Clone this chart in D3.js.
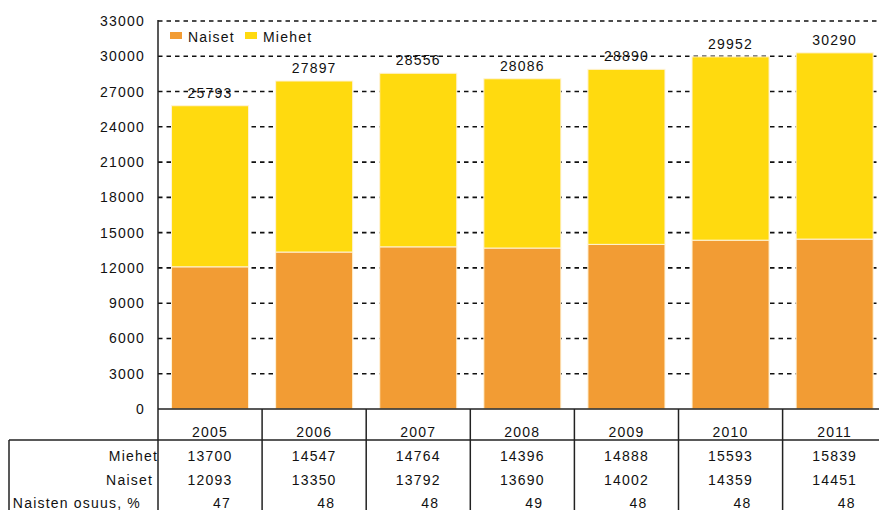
<!DOCTYPE html>
<html><head><meta charset="utf-8">
<script src="https://cdn.jsdelivr.net/npm/d3@7"></script>
<style>
body{margin:0;background:#fff;}
text{font-family:"Liberation Sans",Arial,sans-serif;font-size:14px;fill:#111;letter-spacing:1.2px;}
</style></head>
<body><svg id="c" width="879" height="510"></svg>
<script>
const years = ["2005","2006","2007","2008","2009","2010","2011"];
const miehet = [13700,14547,14764,14396,14888,15593,15839];
const naiset = [12093,13350,13792,13690,14002,14359,14451];
const totals = [25793,27897,28556,28086,28890,29952,30290];
const osuus = [47,48,48,49,48,48,48];
const yTicks = [0,3000,6000,9000,12000,15000,18000,21000,24000,27000,30000,33000];
const seriesNames = ["Naiset","Miehet"];
const colors = {Naiset:"#F29C34", Miehet:"#FFDA0F"};

const svg = d3.select("#c");
const x0 = 158, yTop = 21, yBot = 409;
const x = d3.scaleBand().domain(years).range([x0, x0 + 7*104.1]).paddingInner(0.26).paddingOuter(0.13);
const y = d3.scaleLinear().domain([0,33000]).range([yBot, yTop]);

// gridlines
svg.append("g").selectAll("line").data(yTicks.filter(d=>d>0)).join("line")
  .attr("x1", x0).attr("x2", 879).attr("y1", d=>y(d)).attr("y2", d=>y(d))
  .attr("stroke","#111").attr("stroke-width",1.6).attr("stroke-dasharray","4.5,4");

// y axis
const yAxis = d3.axisLeft(y).tickValues(yTicks).tickSize(0).tickPadding(13).tickFormat(d3.format("d"));
const ga = svg.append("g").attr("transform",`translate(${x0},0)`).call(yAxis);
ga.select(".domain").remove();
ga.selectAll("text").style("font-family","Liberation Sans, Arial").style("font-size","14px").attr("fill","#111");

// stacked bars
const rows = years.map((yr,i)=>({year:yr, Naiset:naiset[i], Miehet:miehet[i]}));
const stack = d3.stack().keys(seriesNames)(rows);
svg.append("g").selectAll("g").data(stack).join("g").attr("fill", d=>colors[d.key])
  .selectAll("rect").data(d=>d).join("rect")
  .attr("x", d=>x(d.data.year)).attr("width", x.bandwidth())
  .attr("y", d=>y(d[1])).attr("height", d=>y(d[0])-y(d[1]))
  .attr("stroke","#fff3d8").attr("stroke-width",1);

// total labels
svg.append("g").selectAll("text").data(years).join("text")
  .attr("x", d=>x(d)+x.bandwidth()/2).attr("y",(d,i)=>y(totals[i])-8)
  .attr("text-anchor","middle").text((d,i)=>totals[i]);

// axis lines
svg.append("line").attr("x1",x0).attr("x2",x0).attr("y1",yTop-1).attr("y2",510).attr("stroke","#222").attr("stroke-width",1.5);
svg.append("line").attr("x1",x0).attr("x2",879).attr("y1",yBot).attr("y2",yBot).attr("stroke","#222").attr("stroke-width",1.5);

// table
const step = x.step();
const bounds = years.map((d,i)=>x0 + i*step);
svg.append("g").selectAll("line").data(bounds.slice(1)).join("line")
  .attr("x1",d=>d).attr("x2",d=>d).attr("y1",yBot).attr("y2",510).attr("stroke","#222").attr("stroke-width",1.5);
svg.append("line").attr("x1",9).attr("x2",879).attr("y1",440).attr("y2",440).attr("stroke","#222").attr("stroke-width",1.5);
svg.append("line").attr("x1",9).attr("x2",9).attr("y1",440).attr("y2",510).attr("stroke","#222").attr("stroke-width",1.5);

const cx = d=>x(d)+x.bandwidth()/2;
svg.append("g").selectAll("text").data(years).join("text")
  .attr("x",cx).attr("y",437).attr("text-anchor","middle").text(d=>d);
svg.append("g").selectAll("text").data(years).join("text")
  .attr("x",cx).attr("y",461).attr("text-anchor","middle").text((d,i)=>miehet[i]);
svg.append("g").selectAll("text").data(years).join("text")
  .attr("x",cx).attr("y",485).attr("text-anchor","middle").text((d,i)=>naiset[i]);
svg.append("g").selectAll("text").data(years).join("text")
  .attr("x",d=>cx(d)+3).attr("y",508).attr("text-anchor","start").text((d,i)=>osuus[i]);

const rowLabels = ["Miehet","Naiset","Naisten osuus, %"];
const rowEnds = [158,153,141];
const rowYs = [461,485,508];
svg.append("g").selectAll("text").data(rowLabels).join("text")
  .attr("x",(d,i)=>rowEnds[i]).attr("y",(d,i)=>rowYs[i]).attr("text-anchor","end")
  .attr("letter-spacing",(d,i)=>i===2?"0.9px":"1.2px").text(d=>d);

// legend
const lg = svg.append("g");
const legendX = [170,245];
seriesNames.forEach((s,i)=>{
  lg.append("rect").attr("x",legendX[i]).attr("y",32).attr("width",12).attr("height",7).attr("fill",colors[s]);
  lg.append("text").attr("x",legendX[i]+18).attr("y",42).text(s);
});
</script></body></html>
